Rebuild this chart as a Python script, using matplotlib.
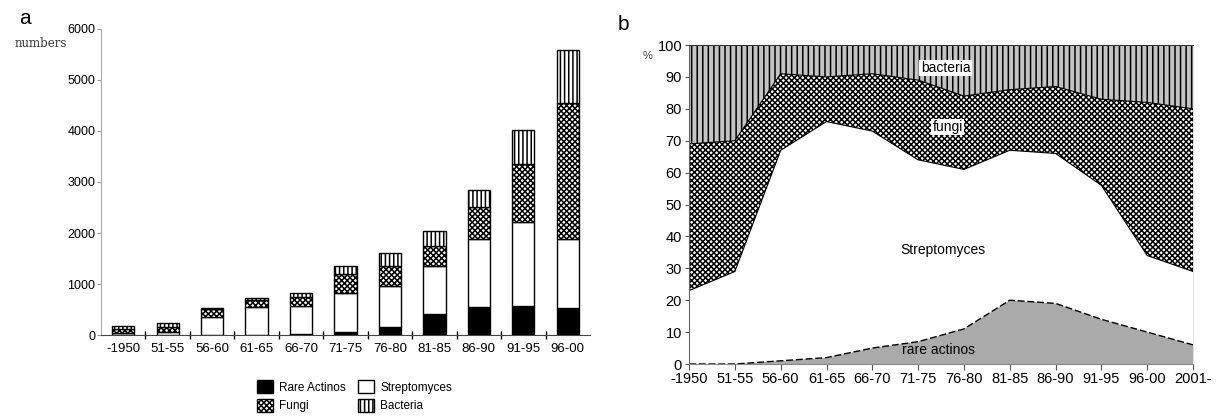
import matplotlib

matplotlib.use("Agg")

import matplotlib.pyplot as plt
import numpy as np
from matplotlib.patches import Patch

# panel a: counts per period
periods_a = ["-1950", "51-55", "56-60", "61-65", "66-70", "71-75",
             "76-80", "81-85", "86-90", "91-95", "96-00"]
rare_a = [0, 0, 0, 0, 10, 65, 150, 412, 542, 569, 523]
strep_a = [40, 60, 347, 542, 559, 765, 811, 941, 1334, 1653, 1353]
fungi_a = [85, 100, 156, 144, 170, 366, 392, 392, 627, 1124, 2664]
bacteria_a = [55, 69, 33, 46, 78, 157, 248, 294, 340, 674, 1048]

# panel b: percentage share per period
periods_b = ["-1950", "51-55", "56-60", "61-65", "66-70", "71-75",
             "76-80", "81-85", "86-90", "91-95", "96-00", "2001-"]
rare_b = [0, 0, 1, 2, 5, 7, 11, 20, 19, 14, 10, 6]
strep_b = [23, 29, 66, 74, 68, 57, 50, 47, 47, 42, 24, 23]
fungi_b = [46, 41, 24, 14, 18, 25, 23, 19, 21, 27, 48, 51]
bacteria_b = [31, 30, 9, 10, 9, 11, 16, 14, 13, 17, 18, 20]

NARROW = ["Liberation Sans Narrow", "Liberation Sans", "DejaVu Sans"]
SANS = ["Liberation Sans", "DejaVu Sans"]
FUNGI_HATCH = "xxxxxx"

plt.rcParams["hatch.linewidth"] = 1.1

fig = plt.figure(figsize=(12.2, 4.16), dpi=100)

# ---------------- panel a ----------------
ax = fig.add_axes([0.0828, 0.1947, 0.4008, 0.7356])
x = np.arange(len(periods_a))
w = 0.5
bottom = np.zeros(len(x))
styles = [
    (rare_a, dict(facecolor="black", hatch=None)),
    (strep_a, dict(facecolor="white", hatch=None)),
    (fungi_a, dict(facecolor="white", hatch=FUNGI_HATCH)),
    (bacteria_a, dict(facecolor="white", hatch="||||")),
]
for vals, st in styles:
    vals = np.array(vals, dtype=float)
    ax.bar(x, vals, w, bottom=bottom, edgecolor="black", linewidth=1.0, **st)
    bottom += vals

ax.set_xlim(-0.5, 10.5)
ax.set_ylim(0, 6000)
ax.set_yticks(np.arange(0, 6001, 1000))
ax.set_yticklabels([str(v) for v in range(0, 6001, 1000)], family=NARROW, fontsize=9)
ax.set_xticks(x)
ax.set_xticklabels(periods_a, family=NARROW, fontsize=9.5)
ax.set_xticks(np.arange(0.5, 10.5, 1.0), minor=True)
ax.tick_params(axis="x", which="major", length=0, pad=6)
ax.tick_params(axis="x", which="minor", length=6, direction="inout", width=1.0)
ax.tick_params(axis="y", length=3, width=0.8, color="#999999", pad=1)
for s in ["top", "right"]:
    ax.spines[s].set_visible(False)
ax.spines["left"].set_color("#aaaaaa")
ax.spines["bottom"].set_color("#444444")

fig.text(0.016, 0.955, "a", fontsize=15, family=SANS, va="center")
fig.text(0.012, 0.895, "numbers", fontsize=8.5, family="serif", va="center", color="#333333")

handles = [
    Patch(facecolor="black", edgecolor="black", label="Rare Actinos"),
    Patch(facecolor="white", edgecolor="black", hatch=FUNGI_HATCH, label="Fungi"),
    Patch(facecolor="white", edgecolor="black", label="Streptomyces"),
    Patch(facecolor="white", edgecolor="black", hatch="||||", label="Bacteria"),
]
fig.legend(handles=handles, ncol=2, loc="upper left", bbox_to_anchor=(0.2055, 0.1),
           frameon=False, prop={"family": NARROW, "size": 8.5}, handlelength=1.4,
           handleheight=1.3, handletextpad=0.5, columnspacing=1.0, labelspacing=0.45,
           borderpad=0.0)

# ---------------- panel b ----------------
bx = fig.add_axes([0.5648, 0.125, 0.4131, 0.7668])
xb = np.arange(len(periods_b))
c1 = np.array(rare_b, dtype=float)
c2 = c1 + np.array(strep_b)
c3 = c2 + np.array(fungi_b)
c4 = c3 + np.array(bacteria_b)

bx.fill_between(xb, 0, c1, facecolor="#aaaaaa", edgecolor="none")
bx.fill_between(xb, c1, c2, facecolor="white", edgecolor="none")
bx.fill_between(xb, c2, c3, facecolor="white", edgecolor="black", hatch=FUNGI_HATCH, linewidth=0)
bx.fill_between(xb, c3, c4, facecolor="#c4c4c4", edgecolor="black", hatch="|||", linewidth=0)
bx.plot(xb, c1, color="black", lw=1.0, ls=(0, (5, 2)))
bx.plot(xb, c2, color="black", lw=0.8)
bx.plot(xb, c3, color="black", lw=0.8)

bx.set_xlim(0, 11)
bx.set_ylim(0, 100)
bx.set_yticks(np.arange(0, 101, 10))
bx.set_yticklabels([str(v) for v in range(0, 101, 10)], family=SANS, fontsize=10.5)
bx.set_xticks(xb)
bx.set_xticklabels(periods_b, family=SANS, fontsize=10.5)
bx.tick_params(axis="x", length=4, width=0.8, color="#555555", pad=2)
bx.tick_params(axis="y", length=3, width=0.8, color="#555555", pad=2)
bx.spines["top"].set_color("#333333")
bx.spines["left"].set_color("#666666")
bx.spines["bottom"].set_color("#888888")
bx.spines["right"].set_color("#dddddd")
bx.spines["right"].set_linewidth(0.6)

box = dict(facecolor="white", edgecolor="none", pad=1.0)
bx.text(5.6, 92.8, "bacteria", fontsize=10, family=SANS, ha="center", va="center", bbox=box)
bx.text(5.65, 74.3, "fungi", fontsize=10, family=SANS, ha="center", va="center", bbox=box)
bx.text(5.55, 35.7, "Streptomyces", fontsize=10, family=SANS, ha="center", va="center")
bx.text(5.45, 4.4, "rare actinos", fontsize=10, family=SANS, ha="center", va="center")

fig.text(0.506, 0.94, "b", fontsize=15, family=SANS, va="center")
fig.text(0.527, 0.866, "%", fontsize=8, family=SANS, va="center", color="#444444")

fig.savefig("out.png", dpi=100)
